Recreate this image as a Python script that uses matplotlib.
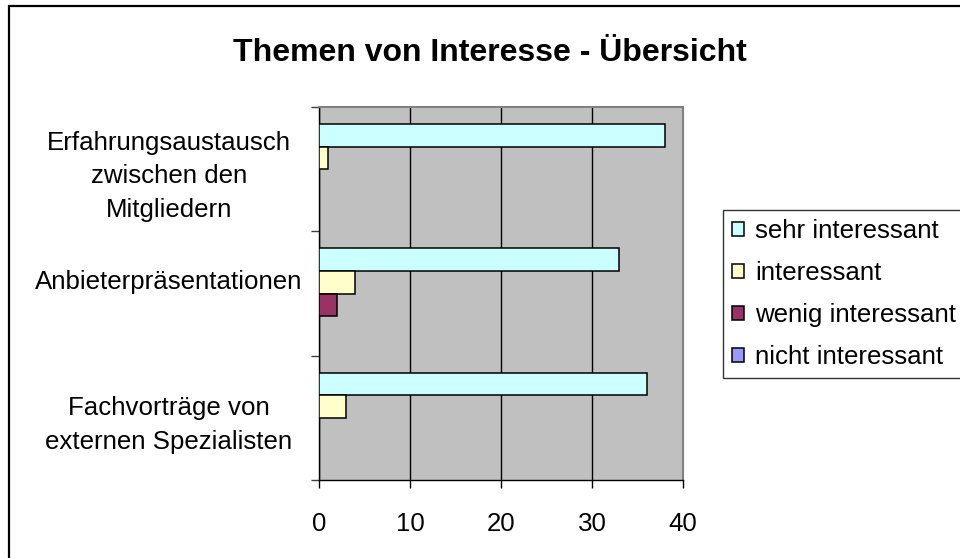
import matplotlib.pyplot as plt
import matplotlib.transforms as mtransforms
import numpy as np
from matplotlib.patches import Rectangle

# Chart data
categories = [
    "Erfahrungsaustausch\nzwischen den\nMitgliedern",
    "Anbieterpräsentationen",
    "Fachvorträge von\nexternen Spezialisten",
]
series = ["sehr interessant", "interessant", "wenig interessant", "nicht interessant"]
sehr_interessant = [38, 33, 36]
interessant = [1, 4, 3]
wenig_interessant = [0, 2, 0]
nicht_interessant = [0, 0, 0]
colors = ["#CCFFFF", "#FFFFCC", "#993366", "#9999FF"]
x_ticks = [0, 10, 20, 30, 40]

plt.rcParams["font.family"] = ["Liberation Sans", "DejaVu Sans"]

fig = plt.figure(figsize=(9.6, 5.58), dpi=100)
W, H = 960, 558
ax = fig.add_axes([319 / W, 1 - 480 / H, 364 / W, 373 / H])
ax.set_facecolor("#C0C0C0")

# Excel style grouped bars, gap width 150%
values = [sehr_interessant, interessant, wenig_interessant, nicht_interessant]
y = np.arange(len(categories))
h = 1 / 5.5
for i, (vals, name, col) in enumerate(zip(values, series, colors)):
    ax.barh(y + (i - 1.5) * h, vals, height=h, color=col, edgecolor="black",
            linewidth=1.1, label=name, zorder=3)

ax.set_xlim(0, 40)
ax.set_ylim(len(categories) - 0.5, -0.5)
ax.set_xticks(x_ticks)
ax.set_xticklabels([str(t) for t in x_ticks])
ax.xaxis.grid(True, color="black", linewidth=1.0, zorder=1)
ax.set_axisbelow(True)

ax.set_yticks(y)
ax.set_yticklabels(categories, ha="center", fontsize=18.6, linespacing=1.5)
ax.set_yticks(np.arange(-0.5, len(categories)), minor=True)
ax.tick_params(axis="y", which="major", length=0, pad=108)
ax.tick_params(axis="y", which="minor", length=6, width=1, color="#404040")
ax.tick_params(axis="x", length=6, width=1, pad=17, labelsize=18.6)

# Anbieter label sits a little higher in the reference
lbl = ax.get_yticklabels()[1]
lbl.set_transform(lbl.get_transform()
                  + mtransforms.ScaledTranslation(0, 0.14, fig.dpi_scale_trans))

for side in ["left", "bottom"]:
    ax.spines[side].set_color("black")
    ax.spines[side].set_linewidth(1.0)
for side in ["top", "right"]:
    ax.spines[side].set_color("#808080")
    ax.spines[side].set_linewidth(1.5)

fig.text(490 / W, 1 - 53 / H, "Themen von Interesse - Übersicht",
         ha="center", va="center", fontsize=23, fontweight="bold")

leg = fig.legend(loc="upper left", bbox_to_anchor=(723 / W, 1 - 210 / H),
                 fontsize=18.6, handlelength=0.46, handleheight=0.46,
                 handletextpad=0.42, labelspacing=0.7, borderpad=0.35,
                 borderaxespad=0, frameon=True, fancybox=False)
leg.get_frame().set_edgecolor("black")
leg.get_frame().set_linewidth(1.0)

# outer chart frame (only left and top edges visible)
fig.patches.append(Rectangle((9 / W, -0.1), 1.2, 1.1 - 6 / H,
                             transform=fig.transFigure, fill=False,
                             edgecolor="black", linewidth=1.6))

fig.savefig("out.png", dpi=100)
